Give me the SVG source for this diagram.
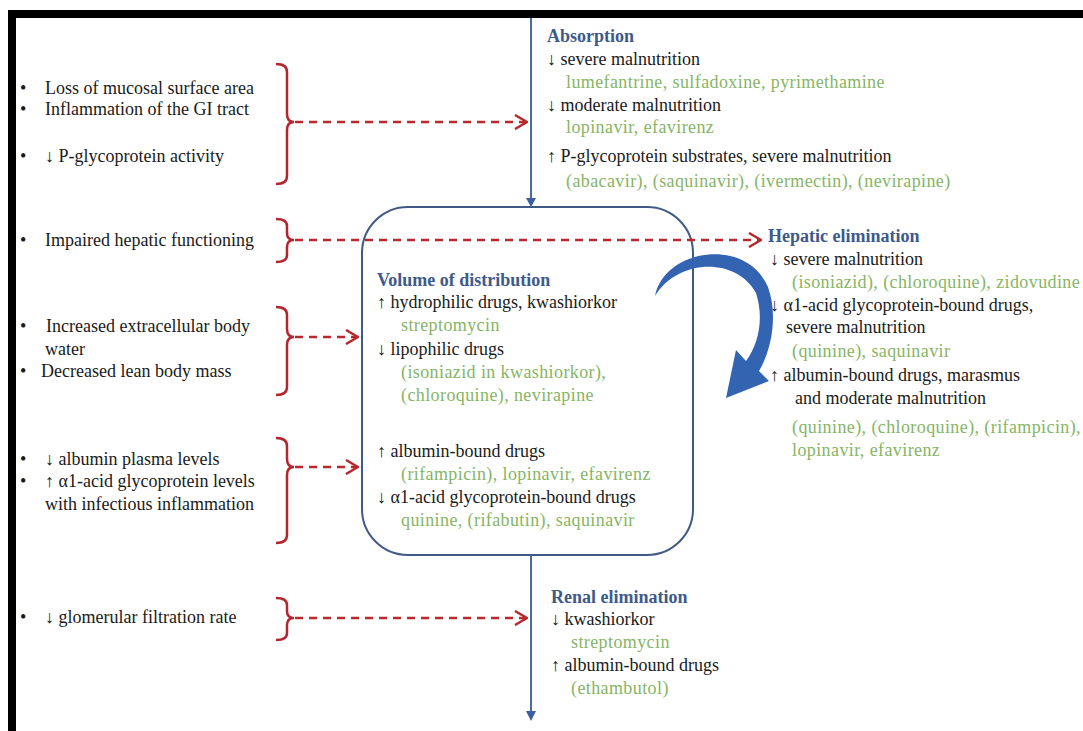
<svg xmlns="http://www.w3.org/2000/svg" width="1083" height="731" viewBox="0 0 1083 731">
<style>
.t{font-family:"Liberation Serif","Times New Roman",serif;font-size:18px;fill:#1a1a1a}
.g{fill:#86b565;letter-spacing:0.4px}
.h{font-weight:bold;fill:#3d5a8a;letter-spacing:0}
.br{fill:none;stroke:#b3262f;stroke-width:2.5}
.da{fill:none;stroke:#b8282e;stroke-width:2.6;stroke-dasharray:8 6}
.bl{stroke:#4a6aa2;stroke-width:2;fill:none}
</style>
<defs>
<marker id="chev" viewBox="0 0 14 16" refX="13" refY="8" markerWidth="14" markerHeight="16" markerUnits="userSpaceOnUse" orient="auto">
<path d="M1,1 L13,8 L1,15" fill="none" stroke="#b8282e" stroke-width="2.5"/>
</marker>
</defs>
<rect x="0" y="0" width="1083" height="731" fill="#fff"/>
<g id="frame" fill="#000">
<rect x="8" y="10" width="1075" height="8"/>
<rect x="8" y="10" width="8" height="721"/>
</g>

<g id="cause-absorption" class="t">
<text x="20" y="94">•</text><text x="45" y="94">Loss of mucosal surface area</text>
<text x="20" y="115">•</text><text x="45" y="115">Inflammation of the GI tract</text>
<text x="20" y="162">•</text><text x="45" y="162">↓ P-glycoprotein activity</text>
<path class="br" d="M276 64 Q287 64 287 72 V114 Q287 122 294 122 Q287 122 287 130 V176 Q287 184 276 184"/>
</g>
<g id="cause-hepatic" class="t">
<text x="20" y="246">•</text><text x="45" y="246">Impaired hepatic functioning</text>
<path class="br" d="M276 219 Q287 219 287 226 V233 Q287 240 294 240 Q287 240 287 247 V255 Q287 262 276 262"/>
</g>
<g id="cause-water" class="t">
<text x="20" y="332">•</text><text x="46" y="332">Increased extracellular body</text>
<text x="45" y="355">water</text>
<text x="20" y="377">•</text><text x="41" y="377">Decreased lean body mass</text>
<path class="br" d="M276 307 Q287 307 287 315 V329 Q287 337 294 337 Q287 337 287 345 V387 Q287 395 276 395"/>
</g>
<g id="cause-protein" class="t">
<text x="20" y="465">•</text><text x="45" y="465">↓ albumin plasma levels</text>
<text x="20" y="487">•</text><text x="45" y="487">↑ α1-acid glycoprotein levels</text>
<text x="45" y="510">with infectious inflammation</text>
<path class="br" d="M276 438 Q287 438 287 446 V459 Q287 467 294 467 Q287 467 287 475 V535 Q287 543 276 543"/>
</g>
<g id="cause-renal" class="t">
<text x="20" y="623">•</text><text x="45" y="623">↓ glomerular filtration rate</text>
<path class="br" d="M276 598 Q287 598 287 605 V611 Q287 618 294 618 Q287 618 287 625 V633 Q287 640 276 640"/>
</g>

<g id="absorption" class="t">
<text class="t h" x="547" y="42">Absorption</text>
<text x="547" y="65">↓ severe malnutrition</text>
<text class="t g" x="566" y="88">lumefantrine, sulfadoxine, pyrimethamine</text>
<text x="547" y="111">↓ moderate malnutrition</text>
<text class="t g" x="566" y="133">lopinavir, efavirenz</text>
<text x="547" y="162">↑ P-glycoprotein substrates, severe malnutrition</text>
<text class="t g" x="566" y="187">(abacavir), (saquinavir), (ivermectin), (nevirapine)</text>
</g>

<g id="distribution" class="t">
<rect x="362" y="207" width="331" height="348" rx="46" ry="46" fill="none" stroke="#3f5a85" stroke-width="2"/>
<text class="t h" x="377" y="286">Volume of distribution</text>
<text x="377" y="308">↑ hydrophilic drugs, kwashiorkor</text>
<text class="t g" x="401" y="331">streptomycin</text>
<text x="377" y="355">↓ lipophilic drugs</text>
<text class="t g" x="401" y="378">(isoniazid in kwashiorkor),</text>
<text class="t g" x="401" y="401">(chloroquine), nevirapine</text>
<text x="377" y="457">↑ albumin-bound drugs</text>
<text class="t g" x="401" y="480">(rifampicin), lopinavir, efavirenz</text>
<text x="377" y="503">↓ α1-acid glycoprotein-bound drugs</text>
<text class="t g" x="401" y="526">quinine, (rifabutin), saquinavir</text>
</g>

<g id="hepatic" class="t">
<text class="t h" x="768" y="242">Hepatic elimination</text>
<text x="770" y="265">↓ severe malnutrition</text>
<text class="t g" x="792" y="288">(isoniazid), (chloroquine), zidovudine</text>
<text x="770" y="311">↓ α1-acid glycoprotein-bound drugs,</text>
<text x="786" y="333">severe malnutrition</text>
<text class="t g" x="792" y="357">(quinine), saquinavir</text>
<text x="770" y="381">↑ albumin-bound drugs, marasmus</text>
<text x="795" y="404">and moderate malnutrition</text>
<text class="t g" x="792" y="433">(quinine), (chloroquine), (rifampicin),</text>
<text class="t g" x="792" y="456">lopinavir, efavirenz</text>
</g>

<g id="renal" class="t">
<text class="t h" x="551" y="603">Renal elimination</text>
<text x="551" y="625">↓ kwashiorkor</text>
<text class="t g" x="571" y="648">streptomycin</text>
<text x="551" y="671">↑ albumin-bound drugs</text>
<text class="t g" x="571" y="694">(ethambutol)</text>
</g>

<g id="connectors">
<line class="bl" x1="531" y1="18" x2="531" y2="199"/>
<polygon points="526,198 536,198 531,207" fill="#3a5ea0"/>
<line class="bl" x1="531" y1="555" x2="531" y2="712"/>
<polygon points="526,711 536,711 531,721" fill="#3a5ea0"/>
<path class="da" d="M295 122 H527" marker-end="url(#chev)"/>
<path class="da" d="M295 240 H761" marker-end="url(#chev)"/>
<path class="da" d="M295 337 H358" marker-end="url(#chev)"/>
<path class="da" d="M295 467 H358" marker-end="url(#chev)"/>
<path class="da" d="M295 618 H527" marker-end="url(#chev)"/>
<path id="recirculation" fill="#3364b2" d="M655 296 C664 249 746 236 768 287 C778 315 772 349 759 371 L769 381 L726 398 L736 350 L746 361 C759 343 764 318 756 293 C736 256 677 259 655 296 Z"/>
</g>
</svg>
